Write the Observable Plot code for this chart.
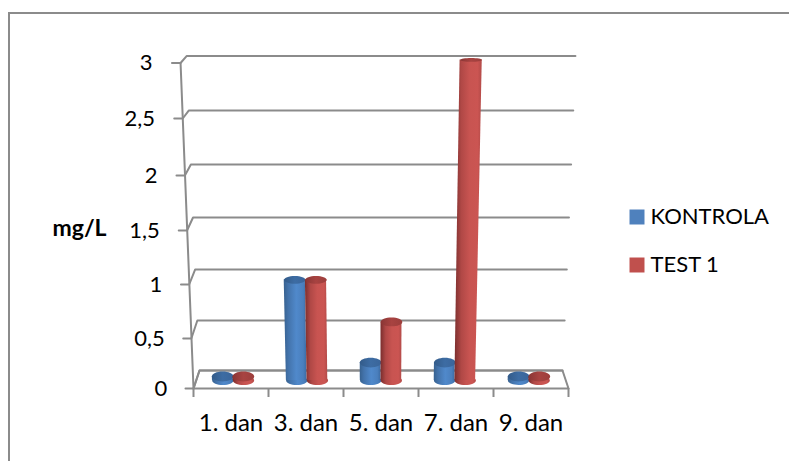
<!DOCTYPE html>
<html>
<head>
<meta charset="utf-8">
<style>
  html, body { margin: 0; padding: 0; background: #fff; }
  svg { display: block; }
</style>
<script src="https://cdn.jsdelivr.net/npm/d3@7"></script>
<script src="https://cdn.jsdelivr.net/npm/@observablehq/plot@0.6"></script>
</head>
<body>
<script>
// Measured concentrations per sampling day
const categories = ["1. dan", "3. dan", "5. dan", "7. dan", "9. dan"];
const kontrola = [0.04, 0.98, 0.18, 0.18, 0.04];
const test1 = [0.04, 0.98, 0.58, 3, 0.04];
const seriesNames = ["KONTROLA", "TEST 1"];
const axisTicks = [0, 0.5, 1, 1.5, 2, 2.5, 3];
const axisLabels = ["0", "0,5", "1", "1,5", "2", "2,5", "3"];
// Height each value reaches on the rear wall, in front-plane units
const rearHeights = [0.18, 0.667, 1.139, 1.618, 2.096, 2.571, 3.0625];

const rear = d3.scaleLinear(axisTicks, rearHeights);
const grey = "#8b8b8b";
const fontFamily = "Lato, Carlito, sans-serif";

// 3D view: u runs along the categories, v is the value, w the depth (0 front, 1 rear)
const spread = (v, w) => 1 + 0.023 * v - 0.032 * w;
const px = (u, v, w) => 2.5 + (u - 2.5) * spread(v, w);
const py = (v, w) => v + w * (rear(v) - v);

const barDepth = 0.45;
const barHalf = 0.14;
const seriesOffset = [0.36, 0.64];

// Flattened circle used for the cylinder ends
const ellipse = (rx, ry) => ({
  draw(c) {
    const k = 0.5523;
    c.moveTo(-rx, 0);
    c.bezierCurveTo(-rx, -ry * k, -rx * k, -ry, 0, -ry);
    c.bezierCurveTo(rx * k, -ry, rx, -ry * k, rx, 0);
    c.bezierCurveTo(rx, ry * k, rx * k, ry, 0, ry);
    c.bezierCurveTo(-rx * k, ry, -rx, ry * k, -rx, 0);
    c.closePath();
  }
});

const gradient = (id, stops) =>
  `<linearGradient id="${id}" x1="0" x2="1" y1="0" y2="0">` +
  stops.map(([o, c]) => `<stop offset="${o}" stop-color="${c}"/>`).join("") +
  `</linearGradient>`;

const defs = () =>
  d3.create("svg:defs").html(
    gradient("blueBody", [[0, "#37618f"], [0.2, "#4373ab"], [0.55, "#5089cb"], [0.85, "#4a7fbd"], [1, "#3c6ba3"]]) +
    gradient("redBody", [[0, "#7a2e2d"], [0.25, "#b04846"], [0.55, "#c85451"], [0.85, "#cb5552"], [1, "#b24a48"]]) +
    gradient("blueCap", [[0, "#335b89"], [0.5, "#3d6ca3"], [1, "#3a659a"]]) +
    gradient("redCap", [[0, "#8a3635"], [0.5, "#a84341"], [1, "#9c3e3c"]])
  ).node();

// Gridline for one tick: stub, diagonal along the side wall, run along the rear wall
const gridline = (t) =>
  Plot.line(
    [[-0.107, 0], [0, 0], [0, 1], [5, 1]],
    {
      x: ([u, w]) => px(u, t, w),
      y: ([, w]) => py(t, w),
      stroke: grey,
      strokeWidth: 2
    }
  );

const floorEdge = [[0, 0], [0, 1], [5, 1], [5, 0], [0, 0]];

// One cylinder: base, body, top
const cylinder = (index, value, series) => {
  const colour = series === 0 ? "blue" : "red";
  const u = index + seriesOffset[series];
  const ends = [0, value];
  const topRy = Math.max(1.8, 5 - 1.05 * value);
  return [
    Plot.dot([0], {
      x: () => px(u, 0, barDepth),
      y: () => py(0, barDepth),
      symbol: ellipse(10.6, 4.5),
      fill: `url(#${colour}Body)`,
      stroke: "none"
    }),
    Plot.area(ends, {
      x1: (v) => px(u - barHalf, v, barDepth),
      x2: (v) => px(u + barHalf, v, barDepth),
      y1: (v) => py(v, barDepth),
      y2: (v) => py(v, barDepth),
      fill: `url(#${colour}Body)`
    }),
    Plot.dot([value], {
      x: (v) => px(u, v, barDepth),
      y: (v) => py(v, barDepth),
      symbol: ellipse(10.8, topRy),
      fill: `url(#${colour}Cap)`,
      stroke: "none"
    })
  ];
};

const legendColours = ["#4f81bd", "#c0504d"];
const legendY = [216.5, 264.5];

const chart = Plot.plot({
  width: 789,
  height: 461,
  margin: 0,
  style: { background: "#fff", fontFamily, color: "#000", overflow: "visible" },
  x: { type: "linear", domain: [0, 5], range: [193, 568], axis: null },
  y: {
    type: "linear",
    domain: axisTicks,
    range: [388, 338, 284, 230, 175, 118, 62.5],
    axis: null
  },
  marks: [
    defs,
    // Outer chart border: only the left and top edges show
    Plot.frame({ anchor: "left", stroke: grey, strokeWidth: 2, insetLeft: 8.5, insetTop: 12.5 }),
    Plot.frame({ anchor: "top", stroke: grey, strokeWidth: 2, insetTop: 12.5, insetLeft: 8.5 }),

    // Walls and floor of the 3D plot box
    ...axisTicks.map(gridline),
    Plot.line([0, 3], {
      x: (v) => px(0, v, 0),
      y: (v) => v,
      stroke: grey,
      strokeWidth: 2
    }),
    Plot.line(floorEdge, {
      x: ([u, w]) => px(u, 0, w),
      y: ([, w]) => py(0, w),
      stroke: grey,
      strokeWidth: 2
    }),
    Plot.ruleX(d3.range(categories.length + 1), {
      y1: 0,
      y2: -0.09,
      stroke: grey,
      strokeWidth: 2
    }),

    // Columns
    ...categories.flatMap((_, i) => [
      ...cylinder(i, kontrola[i], 0),
      ...cylinder(i, test1[i], 1)
    ]),

    // Axis text
    Plot.text(axisLabels, {
      x: (_, i) => px(-0.35, axisTicks[i], 0),
      y: (_, i) => axisTicks[i],
      text: (d) => d,
      textAnchor: "end",
      fontSize: 22,
      fill: "#000"
    }),
    Plot.text(categories, {
      x: (_, i) => i + 0.5,
      y: () => -0.35,
      text: (d) => d,
      fontSize: 24,
      fill: "#000"
    }),
    Plot.text(["mg/L"], {
      frameAnchor: "top-left",
      dx: 52,
      dy: 228,
      lineAnchor: "middle",
      textAnchor: "start",
      fontSize: 23,
      fontWeight: "bold",
      fill: "#000"
    }),

    // Legend
    ...seriesNames.flatMap((name, i) => [
      Plot.dot([name], {
        frameAnchor: "top-left",
        dx: 636.5,
        dy: legendY[i],
        symbol: "square",
        r: 8.46,
        fill: legendColours[i],
        stroke: "none"
      }),
      Plot.text([name], {
        frameAnchor: "top-left",
        dx: 650,
        dy: legendY[i],
        lineAnchor: "middle",
        text: (d) => d,
        textAnchor: "start",
        fontSize: 22,
        fill: "#000"
      })
    ])
  ]
});

document.body.append(chart);
</script>
</body>
</html>
